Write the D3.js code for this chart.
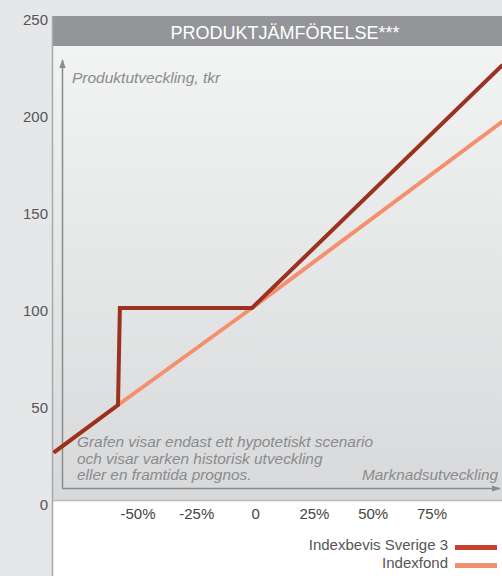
<!DOCTYPE html>
<html>
<head>
<meta charset="utf-8">
<script src="https://cdn.jsdelivr.net/npm/d3@7"></script>
<style>
  body { margin: 0; background: #e6e7e8; }
  svg { display: block; font-family: "Liberation Sans", Arial, sans-serif; }
</style>
</head>
<body>
<div id="chart"></div>
<script>
var w = 502;
var h = 576;

// y tick values (tkr) and x tick labels (market change)
var yTicks = [0, 50, 100, 150, 200, 250];
var xTickLabels = ["-50%", "-25%", "0", "25%", "50%", "75%"];

// market change (%) -> product value (tkr)
var indexbevisX = [-73.5, -50, -49.3, 0, 93.3];
var indexbevisY = [26, 50, 100, 100, 225];
var indexfondX = [-73.5, -50, 0, 93.3];
var indexfondY = [26, 50, 100, 196];

var seriesNames = ["Indexbevis Sverige 3", "Indexfond"];
var seriesColors = ["#9b3220", "#f58f6e"];
var legendColors = ["#c4432f", "#f48f6d"];

var plotLeft = 53, plotTop = 16, headerH = 30, plotBottom = 500;

var svg = d3.select("#chart").append("svg")
    .attr("width", w)
    .attr("height", h);

var defs = svg.append("defs");
var grad = defs.append("linearGradient")
    .attr("id", "bg")
    .attr("x1", 0).attr("y1", 0).attr("x2", 0).attr("y2", 1);
grad.append("stop").attr("offset", "0%").attr("stop-color", "#f2f3f3");
grad.append("stop").attr("offset", "100%").attr("stop-color", "#d8d9da");

defs.append("marker")
    .attr("id", "arrow")
    .attr("viewBox", "0 0 10 10")
    .attr("refX", 9).attr("refY", 5)
    .attr("markerWidth", 6).attr("markerHeight", 6)
    .attr("orient", "auto")
    .append("path")
    .attr("d", "M0,1.5L10,5L0,8.5Z")
    .attr("fill", "#8a8b8d");

// white area under the plot
svg.append("rect")
    .attr("x", plotLeft).attr("y", plotBottom)
    .attr("width", w - plotLeft).attr("height", h - plotBottom)
    .attr("fill", "#ffffff");

// plot background
svg.append("rect")
    .attr("x", plotLeft).attr("y", plotTop + headerH)
    .attr("width", w - plotLeft).attr("height", plotBottom - plotTop - headerH)
    .attr("fill", "url(#bg)");

// header bar
svg.append("rect")
    .attr("x", plotLeft).attr("y", plotTop)
    .attr("width", w - plotLeft).attr("height", headerH)
    .attr("fill", "#939598");
svg.append("text")
    .text("PRODUKTJÄMFÖRELSE***")
    .attr("x", 285)
    .attr("y", 39)
    .attr("text-anchor", "middle")
    .attr("font-size", "18px")
    .attr("fill", "#ffffff");

// scales
var yScale = d3.scaleLinear().domain([0, 250]).range([502, 17]);
var xScale = d3.scaleLinear().domain([-50, 0]).range([118, 252]);
var xLabelScale = d3.scalePoint().domain(xTickLabels).range([138, 432]);

// left frame line and bottom line
svg.append("line")
    .attr("x1", plotLeft - 0.5).attr("y1", plotTop)
    .attr("x2", plotLeft - 0.5).attr("y2", h)
    .attr("stroke", "#a7a9ac").attr("stroke-width", 1.5);
svg.append("line")
    .attr("x1", plotLeft).attr("y1", plotBottom + 0.5)
    .attr("x2", w).attr("y2", plotBottom + 0.5)
    .attr("stroke", "#b8babc").attr("stroke-width", 1.5);

// y tick labels
svg.selectAll(".ytick")
    .data(yTicks)
    .enter()
    .append("text")
    .attr("class", "ytick")
    .text(function(d) { return d; })
    .attr("x", 48)
    .attr("y", function(d) { return yScale(d); })
    .attr("dy", "0.5em")
    .attr("text-anchor", "end")
    .attr("font-size", "15px")
    .attr("fill", "#555555");

// x tick labels
svg.selectAll(".xtick")
    .data(xTickLabels)
    .enter()
    .append("text")
    .attr("class", "xtick")
    .text(function(d) { return d; })
    .attr("x", function(d) { return xLabelScale(d); })
    .attr("y", 519)
    .attr("text-anchor", "middle")
    .attr("font-size", "15px")
    .attr("fill", "#444444");

// inner arrows
svg.append("line")
    .attr("x1", 62.5).attr("y1", 488)
    .attr("x2", 62.5).attr("y2", 60)
    .attr("stroke", "#8a8b8d").attr("stroke-width", 1.5)
    .attr("marker-end", "url(#arrow)");
svg.append("line")
    .attr("x1", 62).attr("y1", 488.5)
    .attr("x2", 500).attr("y2", 488.5)
    .attr("stroke", "#8a8b8d").attr("stroke-width", 1.5)
    .attr("marker-end", "url(#arrow)");

svg.append("text")
    .text("Produktutveckling, tkr")
    .attr("x", 72).attr("y", 83)
    .attr("font-size", "15.5px")
    .attr("font-style", "italic")
    .attr("fill", "#8a8b8d");

var note = ["Grafen visar endast ett hypotetiskt scenario",
            "och visar varken historisk utveckling",
            "eller en framtida prognos."];
svg.selectAll(".note")
    .data(note)
    .enter()
    .append("text")
    .attr("class", "note")
    .text(function(d) { return d; })
    .attr("x", 77)
    .attr("y", function(d, i) { return 447 + i * 16.5; })
    .attr("font-size", "15.4px")
    .attr("font-style", "italic")
    .attr("fill", "#8a8b8d");

svg.append("text")
    .text("Marknadsutveckling")
    .attr("x", 498).attr("y", 480)
    .attr("text-anchor", "end")
    .attr("font-size", "15.4px")
    .attr("font-style", "italic")
    .attr("fill", "#8a8b8d");

// lines
var line = d3.line()
    .x(function(d) { return xScale(d[0]); })
    .y(function(d) { return yScale(d[1]); });

var clip = defs.append("clipPath").attr("id", "plotclip");
clip.append("rect")
    .attr("x", plotLeft).attr("y", plotTop + headerH)
    .attr("width", w - plotLeft).attr("height", plotBottom - plotTop - headerH);

var lines = svg.append("g").attr("clip-path", "url(#plotclip)");

lines.append("path")
    .datum(d3.zip(indexfondX, indexfondY))
    .attr("d", line)
    .attr("fill", "none")
    .attr("stroke", seriesColors[1])
    .attr("stroke-width", 4)
    .attr("stroke-linecap", "round");

lines.append("path")
    .datum(d3.zip(indexbevisX, indexbevisY))
    .attr("d", line)
    .attr("fill", "none")
    .attr("stroke", seriesColors[0])
    .attr("stroke-width", 4)
    .attr("stroke-linecap", "round")
    .attr("stroke-linejoin", "miter");

// legend
var legend = svg.selectAll(".legend")
    .data(seriesNames)
    .enter()
    .append("g")
    .attr("class", "legend")
    .attr("transform", function(d, i) { return "translate(0," + (550 + i * 18) + ")"; });
legend.append("text")
    .text(function(d) { return d; })
    .attr("x", 448)
    .attr("y", 0)
    .attr("text-anchor", "end")
    .attr("font-size", "15px")
    .attr("fill", "#555555");
legend.append("rect")
    .attr("x", 455)
    .attr("y", -5)
    .attr("width", 42)
    .attr("height", 5)
    .attr("fill", function(d, i) { return legendColors[i]; });
</script>
</body>
</html>
